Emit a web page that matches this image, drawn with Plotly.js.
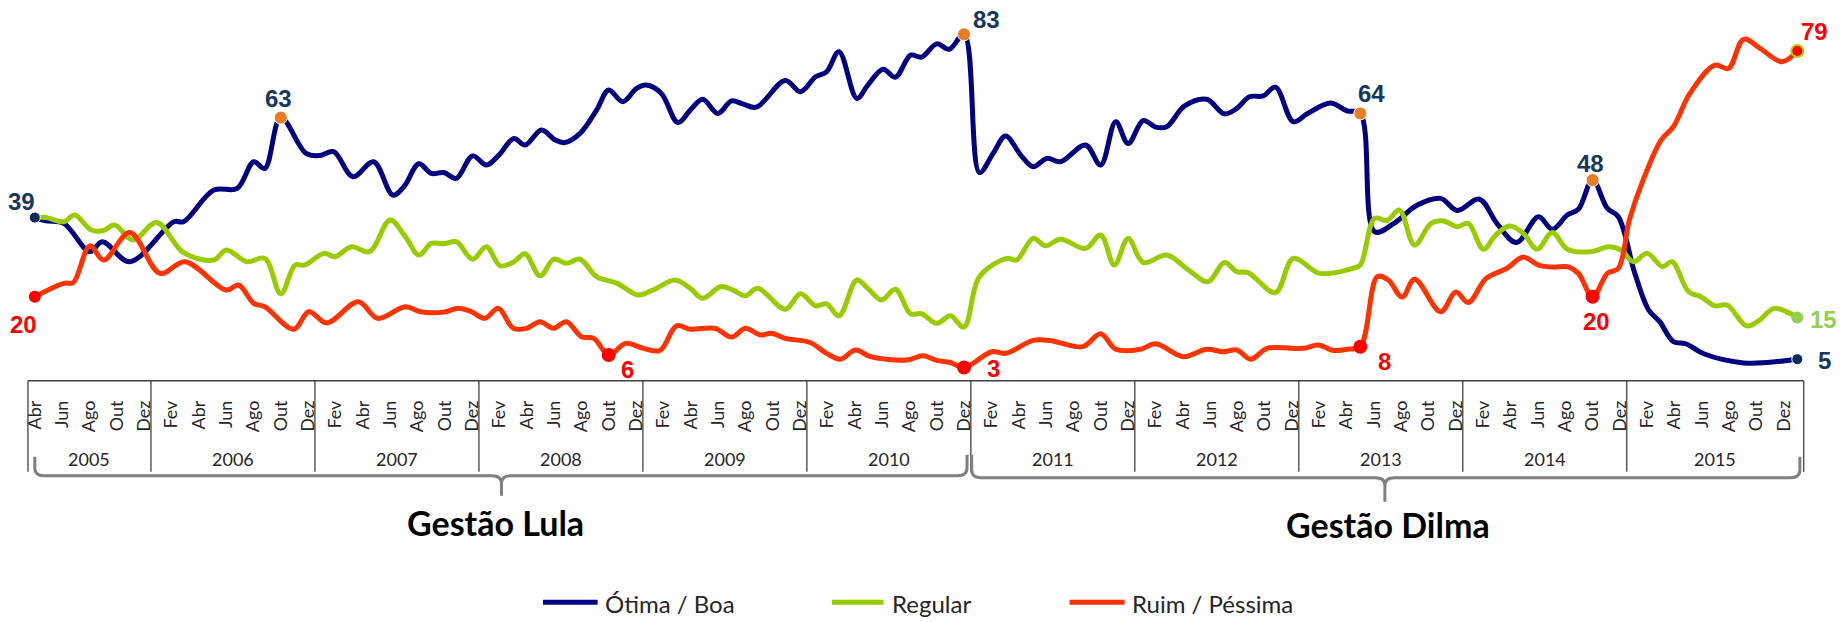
<!DOCTYPE html>
<html>
<head>
<meta charset="utf-8">
<script src="https://cdn.plot.ly/plotly-3.0.1.min.js"></script>
<style>
html,body{margin:0;padding:0;background:#ffffff;}
#chart{width:1845px;height:622px;}
</style>
</head>
<body>
<div id="chart"></div>
<script>
// ---------------- DATA ----------------
// x = months since Abr 2005 (poll positions), y = % of answers
const otimaMonths = [0,0.81,2.12,4.03,4.94,6.95,10.18,10.88,13.1,14.81,
 16.02,16.83,18,19.85,20.86,21.87,23.28,24.79,26.2,27.01,
 28.11,29.02,29.93,30.84,32.04,33.05,33.96,35.07,35.87,37.08,
 38.09,38.8,39.9,41.11,42,43.03,44.04,44.74,45.85,47.06,
 47.97,48.87,49.98,50.99,51.79,52.8,54.92,56.03,57.14,57.94,
 58.85,60.16,60.96,62.07,62.98,64.09,64.89,66,66.91,68,
 69.13,70.13,71.04,72.15,73.06,74.06,75.07,76.89,78,79.1,
 80.01,81.12,82.03,82.83,84.14,85.75,87.06,87.97,88.88,89.89,
 90.79,92.1,93.11,94.82,96.03,97,98.05,99.46,101.17,102.88,
 104.09,105.71,107.02,108.43,110.04,111.05,112.15,112.96,114,115.08,
 115.88,117.09,118.1,118.91,119.91,120.82,122.13,125.05,126.77,128.98];
const otimaVals = [39,38.2,37.6,30.8,33.2,28.4,38.0,38.0,45.6,46.0,
 52.4,50.8,63,54.4,53.9,54.8,48.8,52.4,44.4,46.4,
 51.9,49.6,49.8,48.4,53.8,51.6,54.0,58.0,56.4,60.0,
 57.6,57.0,59.2,64.8,69.6,66.8,70.0,70.8,68.8,61.8,
 64.8,67.4,64.0,67.0,66.3,65.5,71.9,69.2,72.8,74.0,
 78.8,67.6,70.8,74.6,72.7,78.0,77.5,80.7,79.4,83,
 49.8,54.4,58.6,54.0,51.2,53.2,52.4,56.4,51.6,62.0,
 56.8,62.3,60.7,60.8,65.8,67.4,63.9,65.2,68.0,68.2,
 70.3,62.0,63.9,66.5,64.6,64,35.6,37.6,42.0,43.6,
 40.7,43.4,37.5,33.0,39.2,36.2,39.6,41.0,48,41.2,
 39.2,25.6,16.8,14.0,9.2,8.7,6.3,4.1,4.2,5];

const regularMonths = [0,0.81,2.12,2.92,4.13,5.04,5.84,7.2,8.92,10.88,
 13.1,14.01,15.52,16.83,18,19.05,19.75,21.16,21.97,23.18,
 24.49,26,27.11,28.11,29.02,29.93,30.84,32.04,33.05,34.06,
 35.07,35.87,36.98,37.99,38.9,39.9,41.11,42.62,44.14,45.24,
 46.86,47.97,48.87,50.18,51.09,52,52.9,54.92,56.03,57.14,
 57.94,58.85,60.16,60.96,61.97,62.98,64.09,64.89,66,67.01,
 68,69.13,71.14,71.85,73.06,73.96,75.07,76.89,78,79,
 80.01,81.12,82.83,84.44,85.85,87.06,87.97,88.78,90.79,92.1,
 94.02,96.43,97,98.05,98.95,99.86,100.97,102.18,103.09,104.09,
 104.9,106.01,106.91,107.92,108.93,109.94,111.05,112.15,113.87,115.18,
 116.08,116.99,118,119.11,119.81,121.02,121.93,122.94,123.84,125.25,
 126.06,127.27,128.18,128.98];
const regularVals = [39,39,38.0,39.6,36.0,35.9,37.2,33.6,37.8,30.6,
 28.8,31.2,28.4,29.2,20.7,27.6,27.6,30.4,29.6,32.0,
 30.8,38.4,34.4,30.0,32.8,32.7,33.2,29.0,32.0,27.4,
 28.4,30.3,25.0,29.0,28.0,29.0,24.8,23.2,20.4,21.6,
 24.0,22.0,19.6,22.4,21.6,20.2,22.0,17.0,20.7,17.8,
 18.3,15.4,24.0,22.0,19.2,21.8,15.9,15.9,13.6,15.4,
 12.7,24.8,29.2,28.8,34.0,32.2,33.8,31.6,34.8,27.6,
 34.0,28.2,30.0,26.4,23.6,28.2,26.0,25.8,21.0,29.2,
 25.6,26.8,27.6,38.8,38.3,40.8,32.4,37.6,38.2,36.8,
 37.6,31.4,34.8,37.0,35.2,31.4,35.4,31.4,30.8,32.0,
 31.2,28.4,30.4,27.2,28.4,21.2,20.0,17.8,18.0,13.0,
 14.0,17.2,16.4,15];

const ruimMonths = [0,2.12,2.82,4.03,5.04,6.95,9.17,10.98,14.01,14.91,
 16.02,16.83,18.94,20.05,21.36,23.68,25.09,27.11,28.22,29.93,
 30.99,31.94,32.95,33.91,35.02,35.97,36.98,37.94,38.9,40,
 40.91,42,43.23,44.54,45.75,46.96,47.97,49.78,50.99,52,
 53.1,53.91,54.92,56.73,57.94,58.95,60.06,61.17,63.79,65,
 66,67.01,68,70.03,71.04,73.06,74.27,76.68,78,79.1,
 80.92,82.03,84.04,85.75,86.96,87.97,88.98,90.19,92.81,93.92,
 95.02,96.03,97,98.25,99.05,100.06,100.97,102.88,103.99,104.9,
 106.21,107.72,108.93,110.04,111.15,112.15,112.96,114,115.08,115.88,
 116.69,117.6,119.01,119.91,121.12,122.94,123.94,125.05,126.26,127.87,
 128.98];
const ruimVals = [20,23.2,23.4,32.2,28.8,35.4,25.6,28.4,21.6,22.8,
 18.4,17.6,12.2,16.4,13.7,18.8,14.8,17.6,16.4,16.3,
 17.2,16.4,14.8,17.2,12.4,12.4,14.0,12.4,14.0,10.4,
 10.0,6,8.8,7.6,7.1,13.0,12.2,12.4,10.3,12.4,
 10.8,11.2,10.0,9.0,6.4,5.0,7.2,5.6,4.8,5.8,
 4.7,4.2,3,6.8,6.4,9.5,9.5,8.0,11.1,7.4,
 7.4,8.7,5.6,7.4,6.8,7.2,5.0,7.6,7.6,8.4,
 7.1,7.4,8,24.8,24.0,19.9,24.2,16.4,21.1,18.6,
 24.4,26.8,29.5,27.6,27.1,27.2,25.6,20,25.6,26.8,
 38.4,47.2,57.6,60.8,68.8,75.6,74.8,81.8,79.6,76.4,
 79];

const seriesNames = ['Ótima / Boa', 'Regular', 'Ruim / Péssima'];

// x-axis tick labels (every two months, starting Abr 2005)
const tickMonths = [0,2,4,6,8,10,12,14,16,18,20,22,24,26,28,30,32,34,36,38,40,42,44,46,48,50,52,54,56,58,60,62,64,66,68,70,72,74,76,78,80,82,84,86,88,90,92,94,96,98,100,102,104,106,108,110,112,114,116,118,120,122,124,126,128];
const tickLabels = ['Abr','Jun','Ago','Out','Dez',
 'Fev','Abr','Jun','Ago','Out','Dez',
 'Fev','Abr','Jun','Ago','Out','Dez',
 'Fev','Abr','Jun','Ago','Out','Dez',
 'Fev','Abr','Jun','Ago','Out','Dez',
 'Fev','Abr','Jun','Ago','Out','Dez',
 'Fev','Abr','Jun','Ago','Out','Dez',
 'Fev','Abr','Jun','Ago','Out','Dez',
 'Fev','Abr','Jun','Ago','Out','Dez',
 'Fev','Abr','Jun','Ago','Out','Dez',
 'Fev','Abr','Jun','Ago','Out','Dez'];
const yearLabels = ['2005','2006','2007','2008','2009','2010','2011','2012','2013','2014','2015'];
const periodLabels = ['Gestão Lula', 'Gestão Dilma'];

// ---------------- LAYOUT HELPERS ----------------
const W = 1845, H = 622;
const PLOT_H = 380.2;              // pixel height of plotting area (value 0 at its bottom)
const PX_PER_UNIT = 4.1675;
const PX_PER_MONTH = 13.665;
const X0 = 34.8;                   // pixel of month 0
function py(Y){ return (PLOT_H - Y) / PLOT_H; }   // pixel-row -> paper y
const xMin = -X0 / PX_PER_MONTH;
const xMax = (W - X0) / PX_PER_MONTH;

const C_NAVY = '#000080', C_GREEN = '#99CC00', C_RED = '#FF3300';
const C_NAVY_TXT = '#17375E', C_RED_TXT = '#FF0000', C_GREEN_TXT = '#92D050';
const C_ORANGE = '#E87D24';

function valAt(months, vals, m){ return vals[months.indexOf(m)]; }

// callouts: [month, xshift, yshift]
const navyCallouts  = [[0,-13,16],[18,-2,19],[68,22,15],[97,11,20],[114,-2,17],[128.98,27,-1]];
const redCallouts   = [[0,-11,-28],[42,19,-14],[68,29,-1],[97,24,-15],[114,4,-25],[128.98,17,19]];
const greenCallouts = [[128.98,26,-2]];

const lineW = 5;
const traces = [
  {x: otimaMonths, y: otimaVals, mode:'lines', name: seriesNames[0], cliponaxis:false,
   line:{color:C_NAVY, width:lineW, shape:'spline', smoothing:1}},
  {x: regularMonths, y: regularVals, mode:'lines', name: seriesNames[1], cliponaxis:false,
   line:{color:C_GREEN, width:lineW, shape:'spline', smoothing:1}},
  {x: ruimMonths, y: ruimVals, mode:'lines', name: seriesNames[2], cliponaxis:false,
   line:{color:C_RED, width:lineW, shape:'spline', smoothing:1}},
  {x: navyCallouts.map(c=>c[0]), y: navyCallouts.map(c=>valAt(otimaMonths, otimaVals, c[0])),
   mode:'markers', cliponaxis:false,
   marker:{size:[11,13,13,13,13,11], opacity:1, color:['#0F2A5C',C_ORANGE,C_ORANGE,C_ORANGE,C_ORANGE,'#0F2A5C']}},
  {x: greenCallouts.map(c=>c[0]), y: greenCallouts.map(c=>valAt(regularMonths, regularVals, c[0])),
   mode:'markers', cliponaxis:false, marker:{size:12, opacity:1, color:C_GREEN_TXT}},
  {x: redCallouts.map(c=>c[0]), y: redCallouts.map(c=>valAt(ruimMonths, ruimVals, c[0])),
   mode:'markers', cliponaxis:false,
   marker:{size:[12,14,14,14,14,12], opacity:1, color:'#FF0000',
           line:{color:['#FF0000','#FF0000','#FF0000','#FF0000','#FF0000','#B8CC00'], width:[0,0,0,0,0,2]}}}
];

const annotations = [];
function addCallouts(list, months, vals, color){
  list.forEach(c => {
    annotations.push({x:c[0], y:valAt(months, vals, c[0]), xref:'x', yref:'y',
      text:'<b>' + valAt(months, vals, c[0]) + '</b>', showarrow:false,
      xshift:c[1], yshift:c[2], xanchor:'center', yanchor:'middle',
      font:{family:'Liberation Sans, Arial, sans-serif', size:24, color:color}});
  });
}
addCallouts(navyCallouts, otimaMonths, otimaVals, C_NAVY_TXT);
addCallouts(redCallouts, ruimMonths, ruimVals, C_RED_TXT);
addCallouts(greenCallouts, regularMonths, regularVals, C_GREEN_TXT);

// year table
const yearBounds = [-0.5, 8.5, 20.5, 32.5, 44.5, 56.5, 68.5, 80.5, 92.5, 104.5, 116.5, 129.45];
const shapes = [];
const tableTop = py(381), tableBot = py(472);
shapes.push({type:'line', xref:'x', yref:'paper', x0:yearBounds[0], x1:yearBounds[yearBounds.length-1],
  y0:tableTop, y1:tableTop, line:{color:'#404040', width:1.5}});
yearBounds.forEach(b => shapes.push({type:'line', xref:'x', yref:'paper', x0:b, x1:b,
  y0:tableTop, y1:tableBot, line:{color:'#404040', width:1.3}}));
yearLabels.forEach((yl, i) => annotations.push({x:(yearBounds[i]+yearBounds[i+1])/2, y:py(459),
  xref:'x', yref:'paper', text:yl, showarrow:false, xanchor:'center', yanchor:'middle',
  font:{family:'Lato, sans-serif', size:18, color:'#262626'}}));

// braces
function bracePath(x0, xc, x1, yTop0, yTop1, yH, yTip){
  const r = 0.7, d = 8;
  return 'M ' + x0 + ',' + py(yTop0) +
    ' L ' + x0 + ',' + py(yH - d) +
    ' Q ' + x0 + ',' + py(yH) + ' ' + (x0 + r) + ',' + py(yH) +
    ' L ' + (xc - r) + ',' + py(yH) +
    ' Q ' + xc + ',' + py(yH) + ' ' + xc + ',' + py(yH + d) +
    ' L ' + xc + ',' + py(yTip) +
    ' M ' + xc + ',' + py(yH + d) +
    ' Q ' + xc + ',' + py(yH) + ' ' + (xc + r) + ',' + py(yH) +
    ' L ' + (x1 - r) + ',' + py(yH) +
    ' Q ' + x1 + ',' + py(yH) + ' ' + x1 + ',' + py(yH - d) +
    ' L ' + x1 + ',' + py(yTop1);
}
shapes.push({type:'path', xref:'x', yref:'paper', path:bracePath(0, 34.15, 68.22, 457, 455, 476, 496),
  line:{color:'#808080', width:3}});
shapes.push({type:'path', xref:'x', yref:'paper', path:bracePath(68.56, 98.8, 129.17, 455, 457, 478, 502),
  line:{color:'#808080', width:3}});
annotations.push({x:33.68, y:py(523), xref:'x', yref:'paper', text:'<b>'+periodLabels[0]+'</b>', showarrow:false,
  xanchor:'center', yanchor:'middle', font:{family:'Lato, sans-serif', size:34, color:'#000000'}});
annotations.push({x:99.03, y:py(525), xref:'x', yref:'paper', text:'<b>'+periodLabels[1]+'</b>', showarrow:false,
  xanchor:'center', yanchor:'middle', font:{family:'Lato, sans-serif', size:34, color:'#000000'}});

// custom legend
const legendItems = [[543, 597.6, 603, C_NAVY], [831.8, 883.5, 890, C_GREEN], [1069.5, 1124.6, 1129.7, C_RED]];
legendItems.forEach((it, i) => {
  shapes.push({type:'line', xref:'paper', yref:'paper', x0:it[0]/W, x1:it[1]/W, y0:py(602.5), y1:py(602.5),
    line:{color:it[3], width:5}});
  annotations.push({x:it[2]/W, y:py(604), xref:'paper', yref:'paper', text:seriesNames[i], showarrow:false,
    xanchor:'left', yanchor:'middle', font:{family:'Lato, sans-serif', size:24, color:'#262626'}});
});

const layout = {
  width: W, height: H,
  margin: {l:0, r:0, t:0, b:H - PLOT_H, pad:0},
  paper_bgcolor:'#ffffff', plot_bgcolor:'#ffffff',
  showlegend:false, hovermode:false,
  xaxis: {range:[xMin, xMax], tickmode:'array', tickvals:tickMonths, ticktext:tickLabels,
    tickangle:-90, tickfont:{family:'Lato, sans-serif', size:18, color:'#262626'},
    showgrid:false, zeroline:false, showline:false, ticks:'', ticklabelstandoff:16, fixedrange:true},
  yaxis: {range:[0, PLOT_H / PX_PER_UNIT], visible:false, showgrid:false, zeroline:false, fixedrange:true},
  shapes: shapes,
  annotations: annotations
};

Plotly.newPlot('chart', traces, layout, {staticPlot:true, displayModeBar:false});
</script>
</body>
</html>
